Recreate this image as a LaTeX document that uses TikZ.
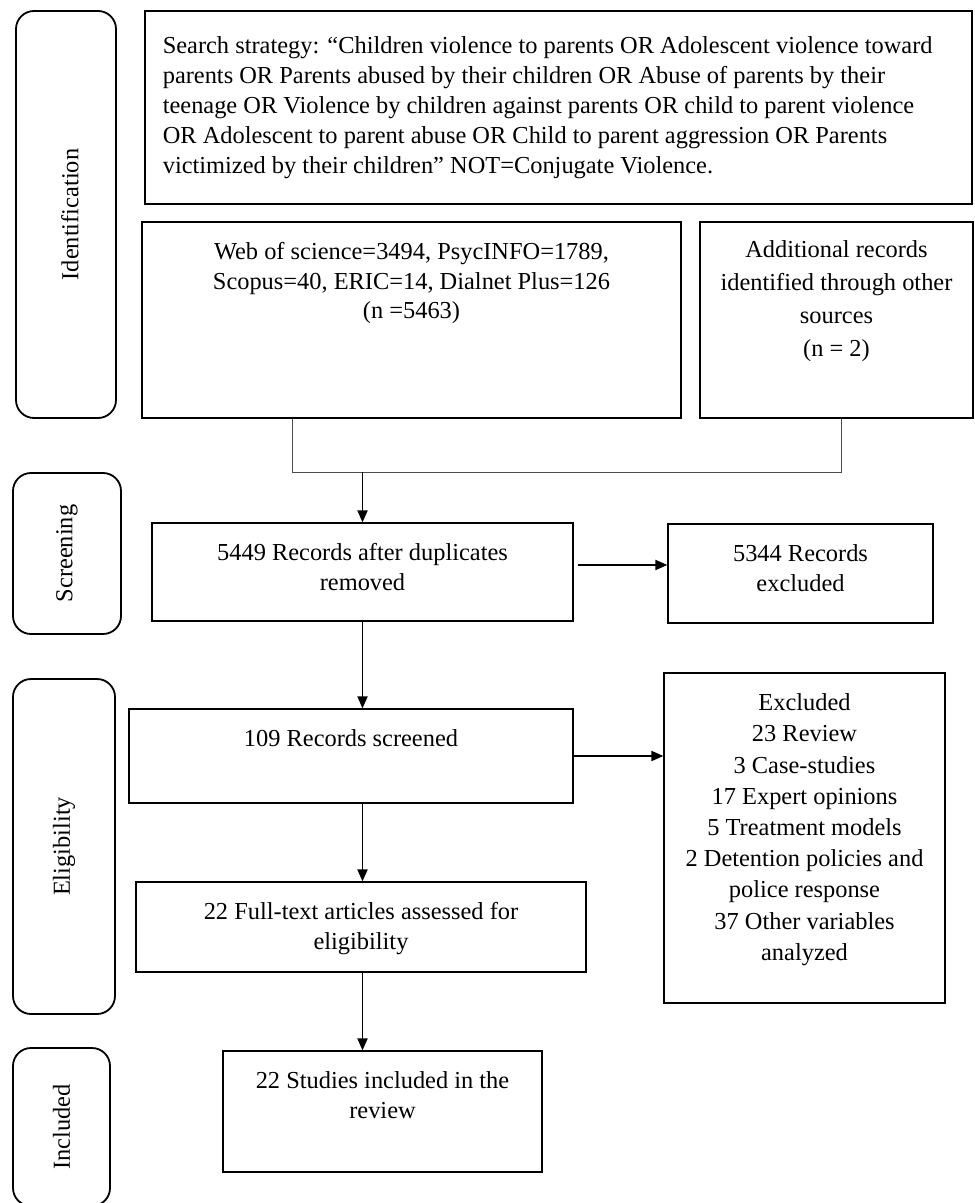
\documentclass[tikz,border=0pt]{standalone}
\usepackage{fontspec}
\setmainfont{Liberation Serif}
\usepackage{tikz}
\usetikzlibrary{arrows.meta}

\tikzset{
  stage/.style={draw, rounded corners=9pt, line width=0.9pt},
  stepbox/.style={draw, line width=0.6pt},
  boxtext/.style={anchor=north, inner sep=0pt, yshift=#1, align=center,
    font=\fontsize{12.2}{15}\selectfont},
  boxtext/.default=-10.5pt,
  stagetext/.style={rotate=90, inner sep=0pt, font=\fontsize{12.2}{15}\selectfont},
  flow/.style={-{Triangle[length=6pt,width=5pt]}, line width=0.9pt},
  merge/.style={draw=black!70, line width=0.5pt}
}

\begin{document}
\begin{tikzpicture}[x=0.5pt, y=-0.5pt]

\useasboundingbox (0,0) rectangle (974,1203);

% Stage labels on the left
\path
(66,214.5) node[stage, minimum width=50pt, minimum height=203.5pt] (ident) {}
(67,553.5) node[stage, minimum width=54pt, minimum height=80.5pt] (screen) {}
(64,846.5) node[stage, minimum width=51pt, minimum height=167.5pt] (elig) {}
(61.5,1127) node[stage, minimum width=48.5pt, minimum height=79pt] (incl) {};

\node[stagetext] (identlabel) at ([xshift=2pt]ident.center) {Identification};
\node[stagetext] (screenlabel) at (screen.center) {Screening};
\node[stagetext] (eliglabel) at (elig.center) {Eligibility};
\node[stagetext] (incllabel) at (incl.center) {Included};


% Identification boxes
\path
(558.5,107.5) node[stepbox, minimum width=413.5pt, minimum height=96.5pt] (search) {}
(411.5,320) node[stepbox, minimum width=269.5pt, minimum height=98pt] (webdb) {}
(836.5,320) node[stepbox, minimum width=136.5pt, minimum height=98pt] (other) {};

\node[boxtext=-13pt, anchor=north west, align=left, xshift=9pt] (searchtext) at (search.north west)
{Search strategy: “Children violence to parents OR Adolescent violence toward\\
parents OR Parents abused by their children OR Abuse of parents by their\\
teenage OR Violence by children against parents OR child to parent violence\\
OR Adolescent to parent abuse OR Child to parent aggression OR Parents\\
victimized by their children” NOT=Conjugate Violence.};

\node[boxtext, font=\fontsize{12.2}{14.6}\selectfont] (webtext) at (webdb.north)
{Web of science=3494, PsycINFO=1789,\\ Scopus=40, ERIC=14, Dialnet Plus=126\\ (n =5463)};

\node[boxtext=-9.5pt, font=\fontsize{12.2}{16.4}\selectfont] (othertext) at (other.north)
{Additional records\\ identified through other\\ sources\\ (n = 2)};


% Screening boxes
\path
(362.5,572) node[stepbox, minimum width=210.5pt, minimum height=49pt] (dedup) {}
(800.5,573.5) node[stepbox, minimum width=132.5pt, minimum height=49.5pt] (dropped) {};

\node[boxtext] (deduptext) at (dedup.north) {5449 Records after duplicates\\ removed};
\node[boxtext] (droppedtext) at (dropped.north) {5344 Records\\ excluded};


% Eligibility boxes
\path
(351,756) node[stepbox, minimum width=222pt, minimum height=47pt] (screened) {}
(804.5,838) node[stepbox, minimum width=140.5pt, minimum height=165pt] (excluded) {}
(361,927) node[stepbox, minimum width=225pt, minimum height=45pt] (fulltext) {};

\node[boxtext] (screenedtext) at (screened.north) {109 Records screened};
\node[boxtext, font=\fontsize{12.2}{15.6}\selectfont] (excludedtext) at (excluded.north)
{Excluded\\ 23 Review\\ 3 Case-studies\\ 17 Expert opinions\\ 5 Treatment models\\
2 Detention policies and\\ police response\\ 37 Other variables\\ analyzed};
\node[boxtext] (fulltexttext) at (fulltext.north) {22 Full-text articles assessed for\\ eligibility};


% Included box
\path
(382.5,1111.5) node[stepbox, minimum width=159.5pt, minimum height=60.5pt] (studies) {};

\node[boxtext] (studiestext) at (studies.north) {22 Studies included in the\\ review};


% Connectors
\coordinate (mergeL) at (292,472);
\coordinate (mergeR) at (841,472);
\coordinate (dedupout) at ([yshift=3.5pt]dedup.east);

\draw[merge] (mergeL |- webdb.south) -- (mergeL) -- (mergeR) -- (mergeR |- other.south);
\draw[flow] (mergeL -| dedup.north) -- (dedup.north);
\draw[flow, shorten <=2pt] (dedupout) -- (dedupout -| dropped.west);
\draw[flow] (dedup.south) -- (dedup.south |- screened.north);
\draw[flow] (screened.east) -- (screened.east -| excluded.west);
\draw[flow] (dedup.south |- screened.south) -- (dedup.south |- fulltext.north);
\draw[flow] (dedup.south |- fulltext.south) -- (dedup.south |- studies.north);

\end{tikzpicture}
\end{document}
